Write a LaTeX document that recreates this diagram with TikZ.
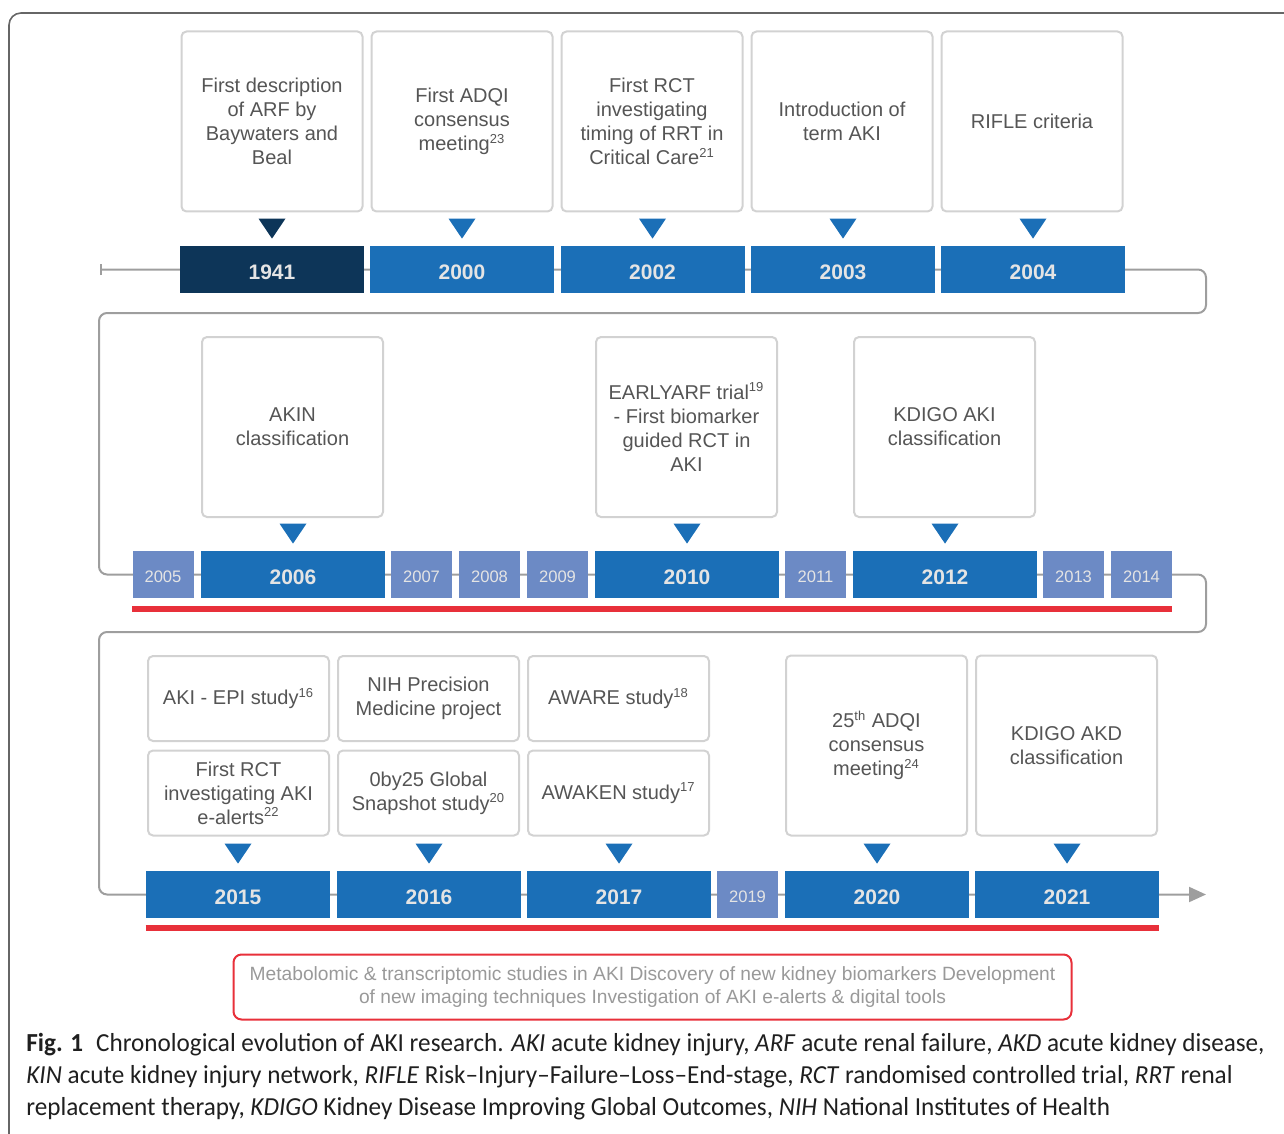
\documentclass[tikz,border=0pt]{standalone}
\usepackage{fontspec}
\setmainfont{Liberation Sans}
\newfontfamily\capfont[FakeStretch=0.968]{Carlito}
\usepackage{xcolor}
\usepackage{tikz}
\usetikzlibrary{arrows.meta,backgrounds,calc}
\definecolor{navy}{HTML}{0D3558}
\definecolor{akiblue}{HTML}{1B6FB7}
\definecolor{akilight}{HTML}{6C8AC5}
\definecolor{akired}{HTML}{E8303A}
\definecolor{boxline}{HTML}{D2D2D2}
\definecolor{boxtext}{HTML}{555555}
\definecolor{notetext}{HTML}{999999}
\definecolor{tlgray}{HTML}{9E9E9E}
\definecolor{framegray}{HTML}{666666}
\definecolor{yeartext}{HTML}{E4E4E4}
\def\pointer#1#2{\fill[#2] ($(#1.north)+(-13.5,-27)$) -- ++(27,0) -- ++(-13.5,20) -- cycle}
\def\refno#1{\textsuperscript{\fontsize{6.5}{7}\selectfont #1}}
\tikzstyle{event}=[draw=boxline,line width=1pt,rounded corners=2.5pt,fill=white,text=boxtext,align=center,inner sep=2pt,font=\fontsize{10}{12}\selectfont]
\tikzstyle{tall}=[event,minimum width=90.5pt,minimum height=90pt]
\tikzstyle{short}=[event,minimum width=90.5pt,minimum height=42.5pt]
\tikzstyle{year}=[fill=akiblue,text=yeartext,inner sep=0pt,minimum width=92pt,minimum height=23.5pt,text depth=0pt,text height=9.6pt,font=\bfseries\fontsize{10.5}{12}\selectfont]
\tikzstyle{first}=[year,fill=navy]
\tikzstyle{offyear}=[year,fill=akilight,minimum width=30.5pt,text height=8.2pt,font=\fontsize{8.3}{10}\selectfont]
\tikzstyle{tline}=[draw=tlgray,line width=1pt,rounded corners=4pt]
\tikzstyle{redbar}=[draw=akired,line width=3pt]

\begin{document}
\begin{tikzpicture}[x=0.5pt,y=-0.5pt]
    \useasboundingbox (0,0) rectangle (1284,1134);
    \draw[framegray,line width=0.8pt,rounded corners=6pt] (9,1134) -- (9,13) -- (1284,13);
    % first row
    \node[tall] (arf) at (272,121.5) {First description\\of ARF by\\Baywaters and\\Beal};
    \node[tall] (adqi) at (462,121.5) {First ADQI\\consensus\\meeting\refno{23}};
    \node[tall] (rrt) at (652,121.5) {First RCT\\investigating\\timing of RRT in\\Critical Care\refno{21}};
    \node[tall] (term) at (842,121.5) {Introduction of\\term AKI};
    \node[tall] (rifle) at (1032,121.5) {RIFLE criteria};
    \node[first] (y1941) at (272,269.5) {1941};
    \node[year] (y2000) at (462,269.5) {2000};
    \node[year] (y2002) at (652.5,269.5) {2002};
    \node[year] (y2003) at (843,269.5) {2003};
    \node[year] (y2004) at (1033,269.5) {2004};
    \pointer{y1941}{navy};
    \pointer{y2000}{akiblue};
    \pointer{y2002}{akiblue};
    \pointer{y2003}{akiblue};
    \pointer{y2004}{akiblue};
    % second row
    \node[tall] (akin) at (292.5,427) {AKIN\\classification};
    \node[tall] (early) at (686.5,427) {EARLYARF trial\refno{19}\\- First biomarker\\guided RCT in\\AKI};
    \node[tall] (kdigo) at (944.5,427) {KDIGO AKI\\classification};
    \node[offyear] (y2005) at (163,574.5) {2005};
    \node[year] (y2006) at (293,574.5) {2006};
    \node[offyear] (y2007) at (421.5,574.5) {2007};
    \node[offyear] (y2008) at (489.5,574.5) {2008};
    \node[offyear] (y2009) at (557.5,574.5) {2009};
    \node[year] (y2010) at (687,574.5) {2010};
    \node[offyear] (y2011) at (815.5,574.5) {2011};
    \node[year] (y2012) at (945,574.5) {2012};
    \node[offyear] (y2013) at (1073.5,574.5) {2013};
    \node[offyear] (y2014) at (1141.5,574.5) {2014};
    \pointer{y2006}{akiblue};
    \pointer{y2010}{akiblue};
    \pointer{y2012}{akiblue};
    \draw[redbar] ([yshift=-5.5pt]y2005.south west) -- ([yshift=-5.5pt]y2014.south east);
    % third row
    \node[short] (epi) at (238.5,698.5) {AKI - EPI study\refno{16}};
    \node[short] (alerts) at (238.5,793) {First RCT\\investigating AKI\\e-alerts\refno{22}};
    \node[short] (nih) at (428.5,698.5) {NIH Precision\\Medicine project};
    \node[short] (zero) at (428.5,793) {0by25 Global\\Snapshot study\refno{20}};
    \node[short] (aware) at (618.5,698.5) {AWARE study\refno{18}};
    \node[short] (awaken) at (618.5,793) {AWAKEN study\refno{17}};
    \node[tall] (adqi25) at (876.5,745.5) {25\refno{th} ADQI\\consensus\\meeting\refno{24}};
    \node[tall] (akd) at (1066.5,745.5) {KDIGO AKD\\classification};
    \node[year] (y2015) at (238,894.5) {2015};
    \node[year] (y2016) at (429,894.5) {2016};
    \node[year] (y2017) at (619,894.5) {2017};
    \node[offyear] (y2019) at (747.5,894.5) {2019};
    \node[year] (y2020) at (877,894.5) {2020};
    \node[year] (y2021) at (1067,894.5) {2021};
    \pointer{y2015}{akiblue};
    \pointer{y2016}{akiblue};
    \pointer{y2017}{akiblue};
    \pointer{y2020}{akiblue};
    \pointer{y2021}{akiblue};
    \draw[redbar] ([yshift=-5pt]y2015.south west) -- ([yshift=-5pt]y2021.south east);
    \node[draw=akired,line width=1pt,rounded corners=4pt,minimum width=419pt,minimum height=32.5pt,text=notetext,align=center,font=\fontsize{9.6}{11.5}\selectfont] (future) at (652.5,987) {Metabolomic \& transcriptomic studies in AKI Discovery of new kidney biomarkers Development\\of new imaging techniques Investigation of AKI e-alerts \& digital tools};
    \node[anchor=north west,inner sep=0pt,align=left,text=black!88,font=\capfont\fontsize{13}{16}\selectfont] (caption) at (26,1033) {\textbf{Fig. 1}\enspace Chronological evolution of AKI research. \textit{AKI} acute kidney injury, \textit{ARF} acute renal failure, \textit{AKD} acute kidney disease,\\\textit{KIN} acute kidney injury network, \textit{RIFLE} Risk–Injury–Failure–Loss–End-stage, \textit{RCT} randomised controlled trial, \textit{RRT} renal\\replacement therapy, \textit{KDIGO} Kidney Disease Improving Global Outcomes, \textit{NIH} National Institutes of Health};
    % the time line
    \coordinate (start) at (100,269.5);
    \coordinate (bend1) at (1206,313);
    \coordinate (bend2) at (99,313);
    \coordinate (bend3) at (1206,632);
    \coordinate (bend4) at (99,632);
    \coordinate (end) at (1206,894.5);
    \begin{scope}[on background layer]
    \draw[tline,{Bar[width=5.5pt]}-{Triangle[length=8.5pt,width=7.5pt]}] (start) -- (y2004.east) -| (bend1) -- (bend2) |- (y2005.west) -- (y2014.east) -| (bend3) -- (bend4) |- (y2015.west) -- (y2021.east) -- (end);
    \end{scope}
\end{tikzpicture}
\end{document}
